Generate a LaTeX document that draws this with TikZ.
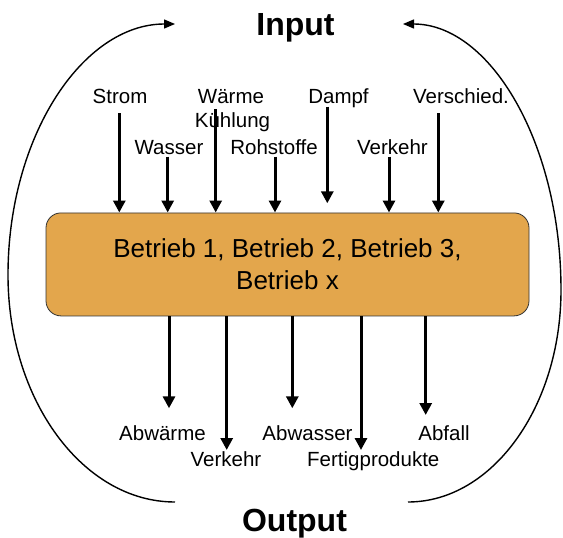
\documentclass[tikz,border=0pt]{standalone}
\usepackage{fontspec}
\setmainfont{Liberation Sans}
\usetikzlibrary{arrows.meta}
\definecolor{boxfill}{RGB}{227,166,76}
\begin{document}
\begin{tikzpicture}[x=1pt,y=-1pt,
  lbl/.style={anchor=base, inner sep=0pt, font=\fontsize{20.5}{24}\selectfont},
  heading/.style={anchor=base, inner sep=0pt, font=\fontsize{32}{38}\selectfont\bfseries},
  flow/.style={line width=3pt, -{Triangle[width=12pt,length=12pt]}},
  cycle/.style={line width=1.4pt, -{Triangle[width=9pt,length=11pt]}},
  plant/.style={draw=black!80, line width=0.8pt, fill=boxfill, rounded corners=15pt,
    minimum width=483pt, minimum height=103pt, align=center, inner sep=0pt,
    font=\fontsize{26}{31.7}\selectfont}
]
\useasboundingbox (0,0) rectangle (563,538);

% central plant box
\node[plant] (box) at (287.5,264.4) {Betrieb 1, Betrieb 2, Betrieb 3,\\ Betrieb x};

% headings
\node[heading] (input) at (295.5,35) {Input};
\node[heading] (output) at (294.5,531) {Output};

% input labels
\node[lbl] (strom) at (120,103) {Strom};
\node[lbl] (waerme) at (231,103) {Wärme};
\node[lbl] (kuehlung) at (232.5,127) {Kühlung};
\node[lbl] (wasser) at (169,154) {Wasser};
\node[lbl] (rohstoffe) at (274,154) {Rohstoffe};
\node[lbl] (dampf) at (338.5,103) {Dampf};
\node[lbl] (verkehrin) at (392.5,154) {Verkehr};
\node[lbl] (verschied) at (461,103) {Verschied.};

% output labels
\node[lbl] (abwaerme) at (162.5,440) {Abwärme};
\node[lbl] (verkehrout) at (226,466.7) {Verkehr};
\node[lbl] (abwasser) at (307.5,440) {Abwasser};
\node[lbl] (fertig) at (373.3,466.7) {Fertigprodukte};
\node[lbl] (abfall) at (444,440) {Abfall};

% input arrow tails
\coordinate (iStrom) at (119.3,113.3);
\coordinate (iWasser) at (167.7,156.7);
\coordinate (iWaerme) at (215.7,109);
\coordinate (iRoh) at (275,156.7);
\coordinate (iDampf) at (327.3,106.7);
\coordinate (iDampfEnd) at (327.3,203.3);
\coordinate (iVerkehr) at (389,156.7);
\coordinate (iVersch) at (438.3,113.3);

\draw[flow] (iStrom) -- (iStrom |- box.north);
\draw[flow] (iWasser) -- (iWasser |- box.north);
\draw[flow] (iWaerme) -- (iWaerme |- box.north);
\draw[flow] (iRoh) -- (iRoh |- box.north);
\draw[flow] (iDampf) -- (iDampfEnd);
\draw[flow] (iVerkehr) -- (iVerkehr |- box.north);
\draw[flow] (iVersch) -- (iVersch |- box.north);

% output arrow heads
\coordinate (oAbwaerme) at (169,408.3);
\coordinate (oVerkehr) at (226.7,450);
\coordinate (oAbwasser) at (292.3,408.3);
\coordinate (oFertig) at (361,450);
\coordinate (oAbfall) at (425.7,415);

\draw[flow] (oAbwaerme |- box.south) -- (oAbwaerme);
\draw[flow] (oVerkehr |- box.south) -- (oVerkehr);
\draw[flow] (oAbwasser |- box.south) -- (oAbwasser);
\draw[flow] (oFertig |- box.south) -- (oFertig);
\draw[flow] (oAbfall |- box.south) -- (oAbfall);

% feedback loops from output back to input
\coordinate (lb) at (175,502);
\coordinate (lm) at (8,275);
\coordinate (lt) at (175,24);
\coordinate (rb) at (408,502);
\coordinate (rm) at (561,290);
\coordinate (rt) at (403,24);

\draw[cycle] (lb) .. controls (83,502) and (8,400) .. (lm)
  .. controls (8,136) and (83,24) .. (lt);
\draw[cycle] (rb) .. controls (492,502) and (561,407) .. (rm)
  .. controls (561,143) and (490,24) .. (rt);
\end{tikzpicture}
\end{document}
